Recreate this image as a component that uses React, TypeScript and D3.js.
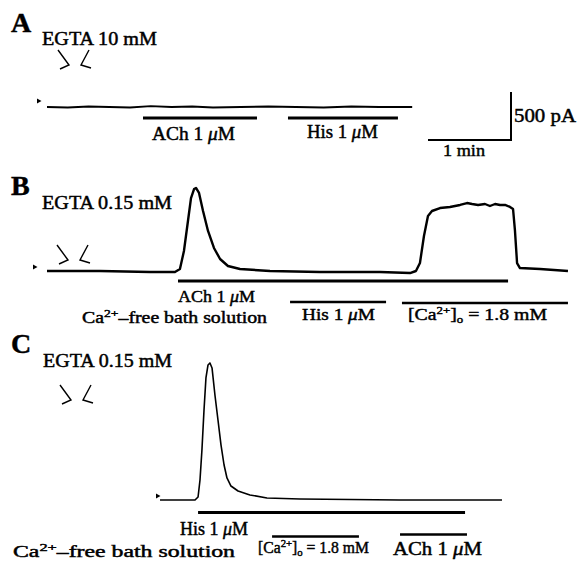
import React from "react";
import * as d3 from "d3";

// ---------- data (time in s, current in pA) ----------
const traceA: [number, number][] = [
  [0, 0], [15, -5], [30, 5], [45, 0], [60, -5], [75, 10], [90, 0], [105, 5],
  [120, -5], [140, 0], [160, 5], [180, 0], [200, -5], [220, 5], [240, 0], [264, 0],
];

const traceB: [number, number][] = [
  [0, 0], [38.3, 0], [74.5, -10], [92.5, -10], [96.1, 21], [99.0, 208], [101.9, 521],
  [104.1, 760], [106.3, 854], [107.7, 865], [109.9, 813], [112.8, 625], [116.4, 417],
  [120.7, 240], [125.1, 125], [130.8, 52], [139.5, 21], [161.2, 0], [197.3, -10],
  [240.7, -10], [262.4, -21], [266.7, 0], [269.6, 83], [272.5, 365], [275.4, 573],
  [278.3, 625], [284.1, 656], [291.3, 667], [298.6, 688], [303.6, 708], [307.3, 698],
  [311.6, 688], [316.6, 698], [320.2, 677], [323.9, 698], [327.5, 688], [331.1, 688],
  [334.7, 667], [336.9, 646], [338.3, 417], [339.8, 83], [341.9, 31], [356.4, 21], [376.6, 0],
];

const traceC: [number, number][] = [
  [81.7, 10], [107.0, 10], [109.2, 42], [110.6, 219], [112.0, 531], [113.5, 948],
  [114.9, 1282], [116.4, 1417], [117.8, 1438], [119.3, 1386], [121.4, 1104],
  [123.6, 844], [125.8, 583], [128.0, 375], [130.1, 240], [133.0, 156], [138.1, 104],
  [146.7, 63], [159.0, 31], [182.9, 21], [255.2, 10], [328.9, 10],
];

// drug application bars [start s, end s]
const barsA = [
  { name: "ACh", t: [69.4, 151.8] },
  { name: "His", t: [174.2, 253.7] },
];
const barsB = [
  { name: "ACh", t: [94.7, 333.3] },
  { name: "His", t: [175.7, 245.1] },
  { name: "Ca", t: [256.6, 376.6] },
];
const barsC = [
  { name: "His", t: [109.2, 302.2] },
  { name: "Ca", t: [162.7, 225.5] },
  { name: "ACh", t: [255.2, 303.6] },
];

const scaleTime = 60; // s
const scaleCurrent = 500; // pA

// ---------- scales ----------
const xScale = d3.scaleLinear().domain([0, 60]).range([47, 130]);
const yFor = (base: number) => d3.scaleLinear().domain([0, 500]).range([base, base - 48]);
const yA = yFor(107);
const yB = yFor(271);
const yC = yFor(501);

const FONT = "'Liberation Serif', 'Times New Roman', serif";

function tracePath(data: [number, number][], y: d3.ScaleLinear<number, number>) {
  return d3.line<[number, number]>().x((d) => xScale(d[0])).y((d) => y(d[1]))(data) || "";
}

const Arrow = ({ x, y }: { x: number; y: number }) => (
  <path d={`M${x},${y - 2.5}L${x + 4.5},${y}L${x},${y + 2.5}Z`} fill="#000" />
);

const Pipette = ({ x, y }: { x: number; y: number }) => (
  <g fill="none" stroke="#000" strokeWidth={1.4}>
    <path d={`M${x},${y}L${x + 11},${y + 15}L${x + 2},${y + 19}`} />
    <path d={`M${x + 31},${y}L${x + 23},${y + 15}L${x + 33},${y + 18}`} />
  </g>
);

const Mu = () => <tspan fontStyle="italic">μ</tspan>;

const Bar = ({ t, y, w = 3 }: { t: number[]; y: number; w?: number }) => (
  <line x1={xScale(t[0])} x2={xScale(t[1])} y1={y} y2={y} stroke="#000" strokeWidth={w} />
);

export default function App() {
  const sbX1 = 511;
  const sbX0 = sbX1 - (xScale(scaleTime) - xScale(0));
  const sbY1 = 140;
  const sbY0 = sbY1 - (yA(0) - yA(scaleCurrent));
  return (
    <svg width={578} height={567} style={{ position: "absolute", left: 0, top: 0, background: "#fff" }}
      fontFamily={FONT}>
      <rect width={578} height={567} fill="#fff" />
      <g stroke="#000" strokeWidth={0.45}>
        <text x={11} y={32} fontSize={28} fontWeight="bold">A</text>
        <text x={42} y={45} fontSize={18} textLength={115} lengthAdjust="spacingAndGlyphs">EGTA 10 mM</text>
        <text x={152} y={140} fontSize={18} textLength={83} lengthAdjust="spacingAndGlyphs">ACh 1 <Mu />M</text>
        <text x={307} y={138} fontSize={18} textLength={71} lengthAdjust="spacingAndGlyphs">His 1 <Mu />M</text>
        <text x={514} y={122} fontSize={18} textLength={62} lengthAdjust="spacingAndGlyphs">500 pA</text>
        <text x={443} y={156} fontSize={17} textLength={42} lengthAdjust="spacingAndGlyphs">1 min</text>

        <text x={11} y={195} fontSize={28} fontWeight="bold">B</text>
        <text x={42} y={209} fontSize={18} textLength={130} lengthAdjust="spacingAndGlyphs">EGTA 0.15 mM</text>
        <text x={178} y={302} fontSize={17} textLength={77} lengthAdjust="spacingAndGlyphs">ACh 1 <Mu />M</text>
        <text x={82} y={323} fontSize={16} textLength={185} lengthAdjust="spacingAndGlyphs">
          Ca<tspan fontSize={11} dy={-6}>2+</tspan><tspan dy={6}>–free bath solution</tspan>
        </text>
        <text x={302} y={320} fontSize={17} textLength={73} lengthAdjust="spacingAndGlyphs">His 1 <Mu />M</text>
        <text x={408} y={320} fontSize={17} textLength={139} lengthAdjust="spacingAndGlyphs">
          [Ca<tspan fontSize={11} dy={-6}>2+</tspan><tspan dy={6}>]</tspan><tspan fontSize={11} dy={3}>o</tspan><tspan dy={-3}> = 1.8 mM</tspan>
        </text>

        <text x={11} y={353} fontSize={28} fontWeight="bold">C</text>
        <text x={43} y={367} fontSize={18} textLength={129} lengthAdjust="spacingAndGlyphs">EGTA 0.15 mM</text>
        <text x={180} y={535} fontSize={18} textLength={68} lengthAdjust="spacingAndGlyphs">His 1 <Mu />M</text>
        <text x={258} y={553} fontSize={16} textLength={111} lengthAdjust="spacingAndGlyphs">
          [Ca<tspan fontSize={11} dy={-6}>2+</tspan><tspan dy={6}>]</tspan><tspan fontSize={11} dy={3}>o</tspan><tspan dy={-3}> = 1.8 mM</tspan>
        </text>
        <text x={393} y={555} fontSize={18} textLength={89} lengthAdjust="spacingAndGlyphs">ACh 1 <Mu />M</text>
        <text x={13} y={557} fontSize={16} textLength={222} lengthAdjust="spacingAndGlyphs">
          Ca<tspan fontSize={11} dy={-6}>2+</tspan><tspan dy={6}>–free bath solution</tspan>
        </text>
      </g>

      {/* Panel A */}
      <Pipette x={58} y={50} />
      <Arrow x={37} y={101} />
      <path d={tracePath(traceA, yA)} fill="none" stroke="#000" strokeWidth={1.8} />
      <Bar t={barsA[0].t} y={118} w={3.2} />
      <Bar t={barsA[1].t} y={118} w={3.2} />
      <path d={`M${sbX0},${sbY1}L${sbX1},${sbY1}L${sbX1},${sbY0}`} fill="none" stroke="#000" strokeWidth={2} />

      {/* Panel B */}
      <Pipette x={57} y={245} />
      <Arrow x={33} y={267} />
      <path d={tracePath(traceB, yB)} fill="none" stroke="#000" strokeWidth={2.4} strokeLinejoin="round" />
      <Bar t={barsB[0].t} y={281} w={3.2} />
      <Bar t={barsB[1].t} y={302} w={2.6} />
      <Bar t={barsB[2].t} y={303} w={2.6} />

      {/* Panel C */}
      <Pipette x={60} y={385} />
      <Arrow x={156} y={496} />
      <path d={tracePath(traceC, yC)} fill="none" stroke="#000" strokeWidth={1.6} strokeLinejoin="round" />
      <Bar t={barsC[0].t} y={512.5} w={3.2} />
      <Bar t={barsC[1].t} y={536.5} w={2.6} />
      <Bar t={barsC[2].t} y={534.5} w={2.6} />
    </svg>
  );
}
